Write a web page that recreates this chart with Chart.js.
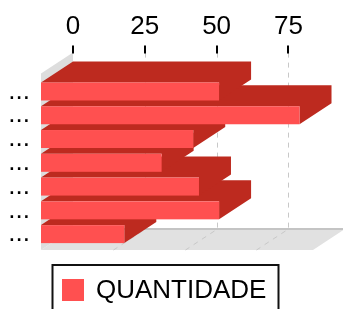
<!DOCTYPE html>
<html lang="en">
<head>
<meta charset="UTF-8">
<title>Quantidade</title>
<script src="https://cdn.jsdelivr.net/npm/chart.js"></script>
<style>
  html, body { margin: 0; padding: 0; background: #fff; }
  #wrap { width: 343px; height: 309px; }
</style>
</head>
<body>
<div id="wrap"><canvas id="qtdChart"></canvas></div>
<script>
// data
const categories = ['...', '...', '...', '...', '...', '...', '...'];
const quantidade = [62, 90, 53, 42, 55, 62, 29];
const xTicks = [0, 25, 50, 75];
const seriesLabel = 'QUANTIDADE';

const FRONT = '#ff5050';
const SIDE = '#bd2a1f';
const FONT = '"Liberation Sans", Arial, sans-serif';
// depth of the 3d effect: back plane -> front plane
const DX = -32, DY = 21;

const threeD = {
    id: 'threeD',
    beforeDatasetsDraw(chart) {
        const ctx = chart.ctx;
        const area = chart.chartArea;
        const xs = chart.scales.x;
        const top = area.top - 6, floor = area.bottom + 4;
        const right = area.right + 2;
        ctx.save();

        // floor
        ctx.fillStyle = '#e1e1e1';
        ctx.beginPath();
        ctx.moveTo(area.left, floor);
        ctx.lineTo(right, floor);
        ctx.lineTo(right + DX, floor + DY);
        ctx.lineTo(area.left + DX, floor + DY);
        ctx.closePath();
        ctx.fill();
        ctx.strokeStyle = '#c4c4c4';
        ctx.lineWidth = 2;
        ctx.beginPath();
        ctx.moveTo(area.left, floor);
        ctx.lineTo(right, floor);
        ctx.stroke();

        // left wall
        ctx.fillStyle = '#dddddd';
        ctx.beginPath();
        ctx.moveTo(area.left, top);
        ctx.lineTo(area.left, floor);
        ctx.lineTo(area.left + DX, floor + DY);
        ctx.lineTo(area.left + DX, top + DY);
        ctx.closePath();
        ctx.fill();

        // dashed grid, back wall then floor
        ctx.strokeStyle = '#c8c8c8';
        ctx.lineWidth = 1;
        ctx.setLineDash([5, 5]);
        xs.ticks.forEach((t, i) => {
            if (t.value === 0) return;
            const px = Math.round(xs.getPixelForTick(i)) + 0.5;
            ctx.beginPath();
            ctx.moveTo(px, top);
            ctx.lineTo(px, floor);
            ctx.lineTo(px + DX, floor + DY);
            ctx.stroke();
        });
        ctx.setLineDash([]);

        // tick marks
        ctx.strokeStyle = '#000';
        ctx.lineWidth = 2;
        xs.ticks.forEach((t, i) => {
            const px = Math.round(xs.getPixelForTick(i));
            ctx.beginPath();
            ctx.moveTo(px, top - 7);
            ctx.lineTo(px, top + 1);
            ctx.stroke();
        });

        // bars, bottom one first so upper bars overlap it
        const meta = chart.getDatasetMeta(0);
        for (let i = meta.data.length - 1; i >= 0; i--) {
            const b = meta.data[i];
            const x0 = b.base, x1 = b.x;
            const y0 = b.y - b.height / 2, y1 = b.y + b.height / 2;
            ctx.fillStyle = SIDE;
            ctx.beginPath();
            ctx.moveTo(x0, y0);
            ctx.lineTo(x1, y0);
            ctx.lineTo(x1, y1);
            ctx.lineTo(x1 + DX, y1 + DY);
            ctx.lineTo(x1 + DX, y0 + DY);
            ctx.lineTo(x0 + DX, y0 + DY);
            ctx.closePath();
            ctx.fill();
            ctx.fillStyle = FRONT;
            ctx.fillRect(x0 + DX, y0 + DY, x1 - x0, y1 - y0);
        }
        ctx.restore();
        return false;
    }
};

// legend in a black frame under the chart
const boxLegend = {
    id: 'boxLegend',
    afterDraw(chart) {
        const ctx = chart.ctx;
        const ds = chart.data.datasets[0];
        const top = chart.chartArea.bottom + 40;
        ctx.save();
        ctx.strokeStyle = '#111';
        ctx.lineWidth = 2;
        ctx.strokeRect(52.5, top, 226, 60);
        ctx.fillStyle = ds.backgroundColor;
        ctx.fillRect(62, top + 14, 22, 22);
        ctx.fillStyle = '#000';
        ctx.font = '26px ' + FONT;
        ctx.textBaseline = 'alphabetic';
        ctx.fillText(ds.label, 96, top + 33);
        ctx.restore();
    }
};

new Chart(document.getElementById('qtdChart'), {
    type: 'bar',
    data: {
        labels: categories,
        datasets: [{
            label: seriesLabel,
            data: quantidade,
            backgroundColor: FRONT,
            barThickness: 18
        }]
    },
    plugins: [threeD, boxLegend],
    options: {
        indexAxis: 'y',
        responsive: true,
        maintainAspectRatio: false,
        animation: false,
        layout: { padding: { top: 0, right: 0, bottom: 84, left: 0 } },
        plugins: {
            legend: { display: false },
            tooltip: { enabled: false }
        },
        scales: {
            x: {
                position: 'top',
                min: 0,
                max: 94,
                afterFit(s) { s.height = 57; },
                afterBuildTicks(s) { s.ticks = xTicks.map(v => ({ value: v })); },
                grid: { display: false, drawTicks: false },
                border: { display: false },
                ticks: { padding: 16, color: '#000', font: { family: FONT, size: 26 } }
            },
            y: {
                afterFit(s) { s.width = 73; },
                grid: { display: false, drawTicks: false },
                border: { display: false },
                ticks: { autoSkip: false, padding: 43, labelOffset: 21, color: '#000', font: { family: FONT, size: 26 } }
            }
        }
    }
});
</script>
</body>
</html>
